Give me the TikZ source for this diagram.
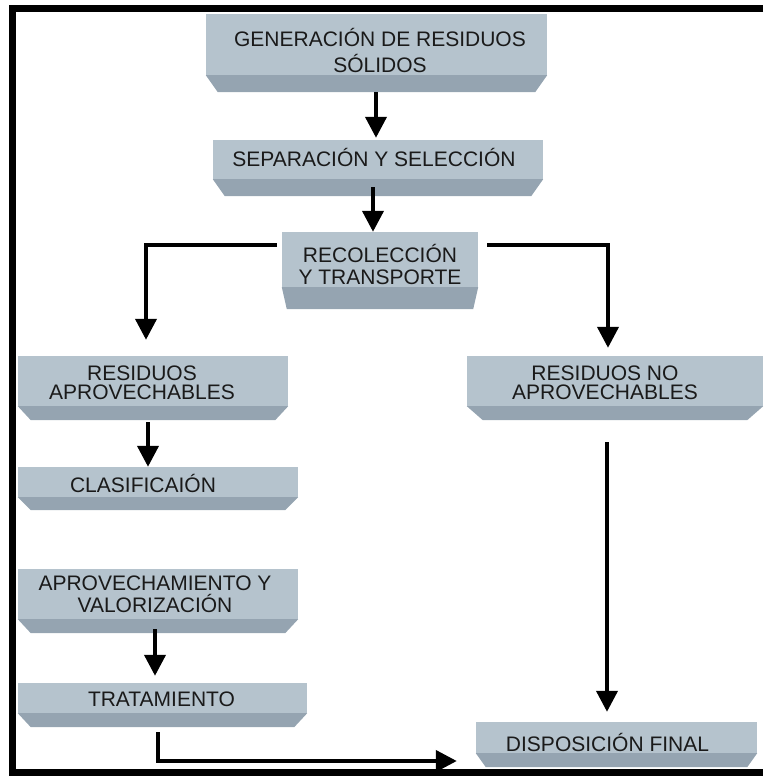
\documentclass[tikz,border=0pt]{standalone}
\usepackage{fontspec}
\newfontfamily\boxfont{Liberation Sans}
\usepackage{tikz}
\usetikzlibrary{arrows.meta}
\definecolor{facecol}{HTML}{B5C3CD}
\definecolor{bevelcol}{HTML}{95A4B1}
\definecolor{textcol}{HTML}{1A1A1A}
\tikzset{
  face/.style={fill=facecol,draw=none,inner sep=0pt},
  lbl/.style={align=center,inner sep=0pt,text=textcol,font=\boxfont\fontsize{21}{22}\selectfont},
  arrowline/.style={line width=4pt,-{Triangle[width=21pt,length=21pt]}},
  plainline/.style={line width=4pt}
}
% bevel under a box: node, depth, inset
\newcommand{\boxbevel}[3]{%
  \fill[bevelcol] (#1.south west) -- (#1.south east) -- ([xshift=-#3pt,yshift=-#2pt]#1.south east) -- ([xshift=#3pt,yshift=-#2pt]#1.south west) -- cycle;}

\begin{document}
\begin{tikzpicture}[x=1pt,y=-1pt]
  \useasboundingbox (0,0) rectangle (763,776);
  % frame
  \draw[line width=7pt] (763,9) -- (12.5,9) -- (12.5,772) -- (763,772);
  % boxes
  \node[face,minimum width=341pt,minimum height=61pt] (gen) at (376.5,44.5) {};
  \node[lbl,font=\boxfont\fontsize{21}{26}\selectfont] (genlbl) at (380,50) {GENERACIÓN DE RESIDUOS\\SÓLIDOS};
  \boxbevel{gen}{17}{12}
  \node[face,minimum width=330pt,minimum height=39pt] (sep) at (378,159.5) {};
  \node[lbl] (seplbl) at (374,157) {SEPARACIÓN Y SELECCIÓN};
  \boxbevel{sep}{17}{12}
  \node[face,minimum width=196pt,minimum height=55pt] (rec) at (380,259.5) {};
  \node[lbl] (reclbl) at (380,264) {RECOLECCIÓN\\Y TRANSPORTE};
  \boxbevel{rec}{22}{5}
  \node[face,minimum width=270pt,minimum height=50pt] (apr) at (153,381) {};
  \node[lbl,font=\boxfont\fontsize{21}{19}\selectfont] (aprlbl) at (142,383) {RESIDUOS\\APROVECHABLES};
  \boxbevel{apr}{14}{13}
  \node[face,minimum width=296pt,minimum height=50pt] (noapr) at (615,381) {};
  \node[lbl,font=\boxfont\fontsize{21}{19}\selectfont] (noaprlbl) at (605,383) {RESIDUOS NO\\APROVECHABLES};
  \boxbevel{noapr}{14}{16}
  \node[face,minimum width=280pt,minimum height=30pt] (cla) at (158,482) {};
  \node[lbl] (clalbl) at (143,483) {CLASIFICAIÓN};
  \boxbevel{cla}{13}{13}
  \node[face,minimum width=280pt,minimum height=50pt] (val) at (158,594) {};
  \node[lbl,font=\boxfont\fontsize{21}{22}\selectfont] (vallbl) at (155,594) {APROVECHAMIENTO Y\\VALORIZACIÓN};
  \boxbevel{val}{14}{13}
  \node[face,minimum width=289pt,minimum height=30pt] (tra) at (162.5,698) {};
  \node[lbl] (tralbl) at (161.5,699) {TRATAMIENTO};
  \boxbevel{tra}{14}{13}
  \node[face,minimum width=281pt,minimum height=31pt] (dis) at (616.5,737.5) {};
  \node[lbl] (dislbl) at (607.5,742) {DISPOSICIÓN FINAL};
  \boxbevel{dis}{14}{10}
  % connectors
  \draw[arrowline] ([xshift=-0.5pt,yshift=-17pt]gen.south) -- ([xshift=-2pt,yshift=2pt]sep.north);
  \draw[arrowline] ([xshift=-5pt,yshift=-8pt]sep.south) -- ([xshift=-7pt]rec.north);
  \draw[arrowline] ([xshift=-5pt,yshift=-13pt]rec.north west) -| ([xshift=-7pt,yshift=16pt]apr.north);
  \draw[arrowline] ([xshift=9pt,yshift=-13pt]rec.north east) -| ([xshift=-7pt,yshift=8pt]noapr.north);
  \draw[arrowline] ([xshift=-5pt,yshift=-16pt]apr.south) -- ([xshift=-10pt]cla.north);
  \draw[arrowline] ([xshift=-3pt,yshift=-10pt]val.south) -- ([xshift=-7.5pt,yshift=7pt]tra.north);
  \draw[arrowline] ([xshift=-8pt,yshift=-36pt]noapr.south) -- ([xshift=-9.5pt,yshift=10pt]dis.north);
  \draw[arrowline] ([xshift=-4.5pt,yshift=-19pt]tra.south) |- ([xshift=-19pt,yshift=-23.5pt]dis.west);
\end{tikzpicture}
\end{document}
